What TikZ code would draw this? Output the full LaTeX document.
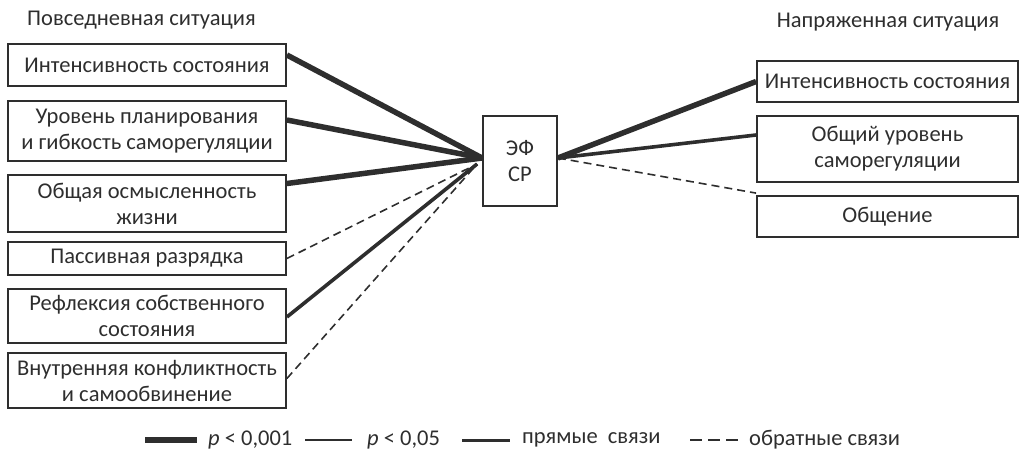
\documentclass[tikz,border=0pt]{standalone}
\usepackage{fontspec}
\setmainfont{Carlito}
\usetikzlibrary{calc}
\definecolor{ink}{HTML}{2E2E2E}
\begin{document}
\begin{tikzpicture}[x=1pt,y=-1pt,
  box/.style={draw=ink,line width=1.8pt,text=ink,align=center,inner sep=0pt,font=\fontsize{22.5}{26}\selectfont},
  lbox/.style={box,minimum width=278pt},
  rbox/.style={box,minimum width=261pt},
  strong/.style={draw=ink,line width=5.5pt},
  weak/.style={draw=ink,line width=3.6pt},
  back/.style={draw=ink,line width=1.6pt,dash pattern=on 8pt off 5pt},
  lbl/.style={text=ink,inner sep=0pt,font=\fontsize{22.5}{26}\selectfont}]
\useasboundingbox (0,0) rectangle (1020,453);

% column headings
\node[lbl,anchor=west] (h1) at (27,20) {Повседневная ситуация};
\node[lbl] (h2) at (888,22) {Напряженная ситуация};

% everyday-situation factors
\node[lbox,minimum height=42pt] (L1) at (147,65) {Интенсивность состояния};
\node[lbox,minimum height=60pt] (L2) at (147,131) {Уровень планирования\\и гибкость саморегуляции};
\node[lbox,minimum height=57pt] (L3) at (147,203.5) {Общая осмысленность\\жизни};
\node[lbox,minimum height=33pt] (L4) at (147,258.5) {Пассивная разрядка};
\node[lbox,minimum height=54pt] (L5) at (147,316) {Рефлексия собственного\\состояния};
\node[lbox,minimum height=55pt] (L6) at (147,380.5) {Внутренняя конфликтность\\и самообвинение};

% central node
\node[box,minimum width=74pt,minimum height=90pt] (C) at (520,161) {ЭФ\\СР};

% stressful-situation factors
\node[rbox,minimum height=41pt] (R1) at (887.5,81.5) {Интенсивность состояния};
\node[rbox,minimum height=66pt] (R2) at (887.5,149) {Общий уровень\\саморегуляции};
\node[rbox,minimum height=41pt] (R3) at (887.5,216.5) {Общение};

% hub points on the central box
\coordinate (hubL) at ($(C.west)+(0,-3)$);
\coordinate (hubD) at ($(C.west)+(-5,3)$);
\coordinate (hubR) at ($(C.east)+(0,-3)$);

% left connectors
\draw[strong] ($(L1.east)+(0,-10)$) -- (hubL);
\draw[strong] ($(L2.east)+(0,-11)$) -- (hubL);
\draw[strong] ($(L3.east)+(0,-20)$) -- (hubL);
\draw[back]   ($(L4.east)+(0,0)$) -- (hubD);
\draw[weak]   ($(L5.east)+(0,1)$) -- (hubD);
\draw[back]   ($(L6.east)+(0,-2)$) -- (hubD);

% right connectors
\draw[strong] (hubR) -- (R1.west);
\draw[weak]   (hubR) -- ($(R2.west)+(0,-14)$);
\draw[back]   (hubR) -- ($(R3.north west)+(0,-2)$);

% legend
\coordinate (k1a) at (145,440); \coordinate (k1b) at (197,440);
\coordinate (k2a) at (305,440); \coordinate (k2b) at (352,440);
\coordinate (k3a) at (462,440); \coordinate (k3b) at (510,440);
\coordinate (k4a) at (690,440); \coordinate (k4b) at (738,440);
\draw[strong] (k1a) -- (k1b);
\draw[draw=ink,line width=1.3pt] (k2a) -- (k2b);
\draw[draw=ink,line width=3pt] (k3a) -- (k3b);
\draw[back,dash pattern=on 12pt off 6pt] (k4a) -- (k4b);
\node[lbl,anchor=west] (t1) at (208,440) {\textit{p} < 0,001};
\node[lbl,anchor=west] (t2) at (367,440) {\textit{p} < 0,05};
\node[lbl,anchor=west] (t3) at (522,440) {прямые\ \ связи};
\node[lbl,anchor=west] (t4) at (749,440) {обратные связи};
\end{tikzpicture}
\end{document}
